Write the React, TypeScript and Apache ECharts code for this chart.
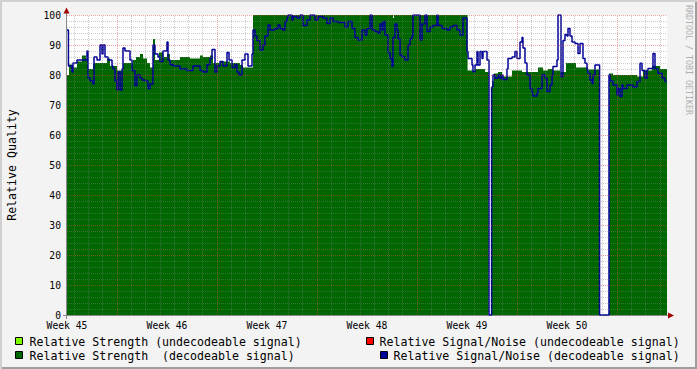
import React, { useEffect, useRef } from "react";
import * as echarts from "echarts";

// ---- data ----
const WEEK_LABELS = ["Week 45", "Week 46", "Week 47", "Week 48", "Week 49", "Week 50"];
const TOTAL_DAYS = 42;

// Relative Signal/Noise (decodeable signal): step breakpoints, days since start of Week 45
const snrDays = [
  0, 0.1, 0.35, 0.42, 0.7, 1.4, 1.47, 1.61, 1.82, 1.89, 2.1, 2.31, 2.45, 2.52, 2.66, 2.87, 3.15, 3.22, 3.36, 3.5,
  3.57, 3.71, 3.85, 3.92, 4.06, 4.41, 4.55, 4.76, 4.9, 5.11, 5.25, 5.46, 5.67, 5.81, 6.02, 6.16, 6.37, 6.51, 6.72,
  7.0, 7.07, 7.21, 7.42, 7.91, 8.4, 8.82, 9.31, 9.52, 9.8, 10.01, 10.15, 10.36, 10.5, 10.71, 10.92, 11.2, 11.34,
  11.55, 11.76, 11.9, 12.04, 12.25, 12.46, 12.67, 12.95, 13.02, 13.16, 13.3, 13.51, 13.72, 13.86, 14.07, 14.21,
  14.56, 14.77, 14.91, 15.12, 15.26, 15.4, 15.47, 15.75, 15.82, 16.1, 16.31, 16.52, 16.8, 17.01, 17.36, 17.57,
  17.92, 18.2, 18.41, 18.62, 18.97, 19.46, 19.67, 19.95, 20.16, 20.37, 20.65, 20.86, 21.0, 21.21, 21.35, 21.56,
  21.77, 21.91, 22.05, 22.12, 22.26, 22.47, 22.61, 22.75, 22.82, 22.96, 23.1, 23.17, 23.31, 23.45, 23.66, 23.87,
  24.01, 24.15, 24.22, 24.71, 24.85, 25.06, 25.2, 25.41, 25.62, 25.9, 25.97, 26.25, 26.6, 26.81, 27.02, 27.3,
  27.51, 27.72, 28.0, 28.07, 28.35, 28.42, 28.56, 28.7, 28.77, 28.91, 29.05, 29.12, 29.4, 29.54, 29.72, 29.82,
  29.96, 30.17, 30.31, 30.45, 30.52, 30.8, 30.87, 31.15, 31.36, 31.5, 31.71, 31.85, 31.92, 32.06, 32.2, 32.41,
  32.55, 32.62, 32.9, 32.97, 33.25, 33.46, 33.6, 33.81, 33.95, 34.02, 34.3, 34.37, 34.58, 34.72, 34.86, 35.0,
  35.07, 35.21, 35.35, 35.56, 35.77, 35.91, 36.12, 36.26, 36.4, 36.47, 36.61, 36.75, 36.82, 36.96, 37.28, 37.94,
  38.01, 38.22, 38.5, 38.57, 38.71, 38.85, 38.92, 39.2, 39.62, 39.9, 40.11, 40.25, 40.46, 40.6, 40.67, 41.02,
  41.16, 41.37, 41.65, 41.86, 42.0,
];
const snrValues = [
  95, 83, 81, 84, 85, 88, 79, 78, 77, 86, 85, 90, 87, 90, 86, 85, 83, 82, 78, 75,
  81, 75, 82, 89, 88, 85, 81.5, 76.5, 80, 79, 78.3, 78, 75.5, 77, 90, 87, 86, 84.5, 88,
  91, 85, 83.5, 83, 82, 81.5, 83, 81.5, 81, 83.5, 85.5, 88.5, 81, 83, 84.5, 83, 87.5, 85,
  82.5, 83.5, 81, 80, 85, 87, 83, 87, 95, 93, 91.5, 88.3, 90, 93, 96.7, 95,
  95.5, 96.7, 95.5, 95, 97.8, 99, 100, 98.3, 99.5, 99, 100, 96.5, 98.3, 100, 98.3, 99.5,
  99, 97.2, 99, 97.8, 97.5, 96, 97.8, 95.5, 92.5, 91.7, 95, 93.3, 95.5, 100, 95, 94.5,
  93.9, 97, 95, 97.8, 93.3, 87.5, 85.5, 82.8, 92.5, 97, 95, 92, 86.7, 86, 85, 90,
  92, 93, 100, 91.7, 97, 100, 94.5, 96, 96.5, 100, 96.5, 95.5, 95, 96, 96.5, 95,
  93.3, 99, 87.8, 85.5, 83.3, 81.1, 83.3, 87.8, 83.3, 87.8, 85.5, 87.8, 85, 0, 76, 80,
  78.9, 80, 78.9, 80, 78.5, 82, 85.5, 86, 87.8, 85.5, 91, 92.5, 89, 84, 80, 75.5,
  74, 73, 74, 75.5, 80, 78.9, 74.5, 76.7, 80, 82.8, 85, 100, 79.4, 91.5, 93.5, 93,
  95.5, 93, 91, 90.5, 87.2, 90.5, 85.5, 83.9, 81.7, 80.6, 78.3, 77.2, 80, 83.3, 0, 80,
  78, 76.7, 73.3, 75.5, 72.8, 76.7, 75.5, 76.7, 76, 77.8, 83.9, 81.5, 78.9, 81.7, 82.2, 87.2,
  82, 80.6, 79, 77.8, 77.8,
];

// Relative Strength (decodeable signal): step breakpoints
const strengthDays = [
  0, 0.14, 0.35, 0.7, 1.05, 1.33, 1.47, 1.82, 2.8, 3.01, 3.5, 3.92, 4.62, 4.83, 5.11, 5.32, 5.6, 5.81, 6.02,
  6.16, 6.44, 6.72, 7.0, 7.21, 7.91, 8.61, 9.31, 9.52, 10.01, 10.22, 10.71, 11.41, 12.11, 12.32, 13.02, 22.82,
  22.89, 28.04, 28.56, 29.26, 29.54, 29.75, 29.89, 30.17, 30.45, 31.15, 31.85, 32.97, 33.32, 33.67, 34.02,
  34.51, 34.93, 35.63, 36.47, 37.28, 37.94, 38.22, 39.9, 40.32, 40.95, 41.51, 42.0,
];
const strengthValues = [
  80, 83.5, 82.5, 84.5, 86.5, 85, 82, 84, 85.5, 83, 81.5, 84, 85, 86, 87, 85.5, 84, 82.5, 92,
  85, 87.5, 86, 87, 85, 86, 85.5, 86.5, 86, 86.5, 84, 84.5, 84, 83.3, 82.5, 100, 99,
  100, 81.5, 82, 81, 0, 78, 80.5, 81, 79.5, 81.5, 81, 82.5, 81.5, 82, 81.5,
  81, 84, 82.5, 81.8, 0, 80.5, 80, 79.5, 81.5, 83, 82, 82,
];

const Y_MINOR = [2, 4, 6, 8, 12, 14, 16, 18, 22, 24, 26, 28, 32, 34, 36, 38, 42, 44, 46, 48, 52, 54, 56, 58, 62, 64, 66, 68, 72, 74, 76, 78, 82, 84, 86, 88, 92, 94, 96, 98];
const Y_MAJOR = [10, 20, 30, 40, 50, 60, 70, 80, 90, 100];

const GREEN = "#006600";
const BLUE = "#000099";
const FONT = '"DejaVu Sans Mono", monospace';

export default function App() {
  const ref = useRef<HTMLDivElement>(null);

  useEffect(() => {
    if (!ref.current) return;
    const chart = echarts.init(ref.current, undefined, { renderer: "svg" });

    const snrData = snrDays.map((d, i) => [d, snrValues[i]]);
    const strengthData = strengthDays.map((d, i) => [d, strengthValues[i]]);

    const minorStyle = { color: "rgba(130,130,130,0.42)", width: 1, type: [1, 1] };
    const majorStyle = { color: "rgba(220,70,70,0.5)", width: 1, type: [1, 1] };

    const gridLines: any[] = [];
    for (let k = 0; k < TOTAL_DAYS; k++) {
      const v = k + 0.5;
      const isMajor = (k - 3) % 7 === 0;
      gridLines.push({ xAxis: v, lineStyle: isMajor ? majorStyle : minorStyle });
    }
    Y_MINOR.forEach((v) => gridLines.push({ yAxis: v, lineStyle: minorStyle }));
    Y_MAJOR.forEach((v) => gridLines.push({ yAxis: v, lineStyle: majorStyle }));

    const textStyle = (text: string, x: number, y: number) => ({
      type: "text",
      x,
      y,
      silent: true,
      style: { text, font: `11.6px ${FONT}`, fill: "#000", align: "left", verticalAlign: "middle" },
    });
    const box = (x: number, y: number, color: string) => ({
      type: "rect",
      silent: true,
      shape: { x: x + 0.5, y: y + 0.5, width: 7, height: 7 },
      style: { fill: color, stroke: "#000", lineWidth: 1 },
    });

    chart.setOption({
      animation: false,
      backgroundColor: "transparent",
      grid: { left: 67, top: 15, width: 600, height: 300, show: true, backgroundColor: "#ffffff", borderWidth: 0 },
      xAxis: {
        type: "value",
        min: 0,
        max: TOTAL_DAYS,
        interval: 7,
        axisLine: { show: false },
        axisTick: { show: false },
        splitLine: { show: false },
        axisLabel: {
          formatter: (v: number) => WEEK_LABELS[Math.round(v / 7)] ?? "",
          fontFamily: FONT,
          fontSize: 9.7,
          color: "#000",
          margin: 5,
          showMaxLabel: false,
        },
      },
      yAxis: {
        type: "value",
        min: 0,
        max: 100,
        interval: 10,
        axisLine: { show: false },
        axisTick: { show: false },
        splitLine: { show: false },
        axisLabel: { fontFamily: FONT, fontSize: 9.7, color: "#000", margin: 6 },
      },
      series: [
        {
          type: "line",
          name: "Relative Strength (decodeable signal)",
          data: strengthData,
          step: "end",
          symbol: "none",
          lineStyle: { width: 0, color: GREEN },
          areaStyle: { color: GREEN, opacity: 1 },
          z: 2,
          silent: true,
        },
        {
          type: "line",
          name: "grid",
          data: [],
          symbol: "none",
          z: 3,
          silent: true,
          markLine: {
            silent: true,
            symbol: ["none", "none"],
            label: { show: false },
            emphasis: { disabled: true },
            animation: false,
            data: gridLines,
          },
        },
        {
          type: "line",
          name: "Relative Signal/Noise (decodeable signal)",
          data: snrData,
          step: "end",
          symbol: "none",
          lineStyle: { width: 1.5, color: BLUE },
          z: 4,
          silent: true,
        },
      ],
      graphic: [
        { type: "line", silent: true, shape: { x1: 66.5, y1: 319, x2: 66.5, y2: 12 }, style: { stroke: "#8a8a8a", lineWidth: 1 } },
        { type: "line", silent: true, shape: { x1: 63, y1: 315.5, x2: 670, y2: 315.5 }, style: { stroke: "#8a8a8a", lineWidth: 1 } },
        { type: "polygon", silent: true, shape: { points: [[63.5, 13.5], [66.5, 7.5], [69.5, 13.5]] }, style: { fill: "#a00000" } },
        { type: "polygon", silent: true, shape: { points: [[668, 312.5], [674, 315.5], [668, 318.5]] }, style: { fill: "#a00000" } },
        {
          type: "text",
          x: 12,
          y: 165,
          rotation: Math.PI / 2,
          silent: true,
          style: { text: "Relative Quality", font: `11.6px ${FONT}`, fill: "#000", align: "center", verticalAlign: "middle" },
        },
        {
          type: "text",
          x: 688.5,
          y: 60,
          rotation: -Math.PI / 2,
          silent: true,
          style: { text: "RRDTOOL / TOBI OETIKER", font: `8.3px ${FONT}`, fill: "#b0b0b0", align: "center", verticalAlign: "middle" },
        },
        box(15, 337, "#80ff00"),
        textStyle("Relative Strength (undecodeable signal)", 29.5, 341.5),
        box(366, 337, "#ff0000"),
        textStyle("Relative Signal/Noise (undecodeable signal)", 379.5, 341.5),
        box(15, 351, GREEN),
        textStyle("Relative Strength  (decodeable signal)", 29.5, 355.5),
        box(380, 351, BLUE),
        textStyle("Relative Signal/Noise (decodeable signal)", 393.5, 355.5),
      ],
    });

    return () => chart.dispose();
  }, []);

  return (
    <div
      style={{
        position: "fixed",
        left: 0,
        top: 0,
        width: 697,
        height: 369,
        background: "#f3f3f3",
        boxShadow: "inset 2px 2px 0 #d0d0d0, inset -2px -2px 0 #9e9e9e",
      }}
    >
      <div ref={ref} style={{ position: "absolute", left: 0, top: 0, width: 697, height: 369 }} />
    </div>
  );
}
